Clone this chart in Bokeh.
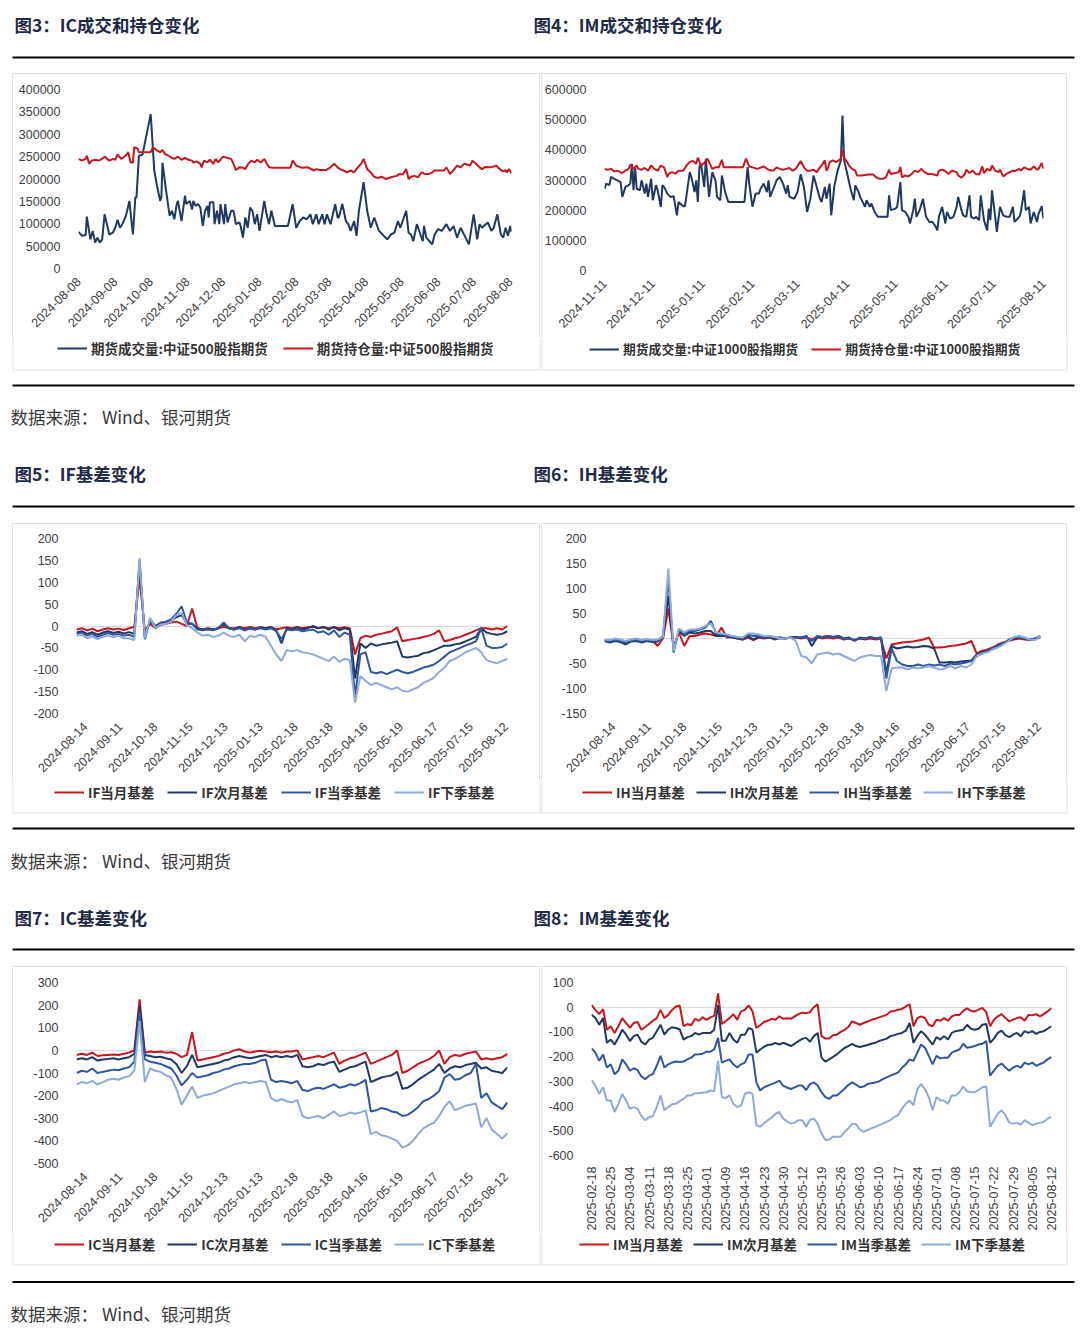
import numpy as np
import pandas as pd
from math import pi
from bokeh.plotting import figure
from bokeh.layouts import column, row
from bokeh.models import (Range1d, FixedTicker, Legend, LegendItem, Spacer,
                          NumeralTickFormatter, DatetimeTickFormatter)
from bokeh.core.properties import value
from bokeh.embed import file_html
from bokeh.resources import INLINE

# ---------------- data ----------------
# Fig 3: IC volume / open interest (calendar day offset from 2024-08-08)
ic_start = "2024-08-08"
ic_ticks = ["2024-08-08", "2024-09-08", "2024-10-08", "2024-11-08", "2024-12-08", "2025-01-08",
            "2025-02-08", "2025-03-08", "2025-04-08", "2025-05-08", "2025-06-08", "2025-07-08", "2025-08-08"]
ic_vol_day = [0, 3, 6, 7, 10, 12, 14, 16, 18, 20, 22, 26, 29, 31, 33, 35, 37, 40, 43, 45,
              46, 48, 49, 51, 54, 61, 64, 66, 69, 70, 71, 74, 76, 77, 79, 81, 83, 84, 87, 90,
              91, 94, 96, 97, 99, 101, 103, 105, 107, 109, 110, 111, 114, 115, 117, 119, 120, 123, 124, 126,
              129, 131, 133, 136, 137, 139, 141, 143, 145, 147, 149, 151, 153, 157, 159, 161, 163, 166, 171, 177,
              181, 184, 187, 190, 193, 196, 198, 201, 203, 206, 208, 210, 213, 217, 219, 220, 223, 226, 228, 230,
              233, 235, 237, 241, 244, 247, 250, 253, 254, 257, 261, 264, 267, 270, 272, 277, 279, 281, 283, 286,
              289, 291, 292, 294, 299, 301, 304, 307, 311, 314, 317, 320, 323, 330, 334, 337, 339, 341, 346, 349,
              351, 354, 357, 359, 361, 363, 365, 366]
ic_vol = [82000, 73000, 75000, 116000, 65000, 84000, 58000, 69000, 58000, 65000,
          121000, 76000, 80000, 91000, 109000, 91000, 99000, 117000, 151000, 99000,
          76000, 159000, 159000, 252000, 254000, 345000, 219000, 189000, 151000, 159000,
          236000, 174000, 136000, 118000, 129000, 110000, 144000, 151000, 106000, 163000,
          144000, 151000, 132000, 151000, 140000, 144000, 136000, 95000, 129000, 140000,
          114000, 148000, 148000, 99000, 129000, 99000, 144000, 99000, 144000, 103000,
          129000, 129000, 99000, 103000, 95000, 69000, 114000, 91000, 136000, 129000,
          99000, 121000, 84000, 151000, 121000, 99000, 129000, 95000, 95000, 95000,
          144000, 91000, 106000, 114000, 110000, 121000, 99000, 121000, 99000, 121000,
          99000, 121000, 99000, 144000, 114000, 114000, 144000, 106000, 99000, 84000,
          106000, 73000, 129000, 193000, 129000, 91000, 114000, 91000, 84000, 76000,
          65000, 76000, 80000, 106000, 91000, 129000, 80000, 76000, 61000, 99000,
          76000, 61000, 95000, 69000, 54000, 76000, 88000, 84000, 99000, 84000,
          95000, 69000, 91000, 54000, 121000, 65000, 99000, 91000, 103000, 84000,
          91000, 121000, 76000, 69000, 91000, 73000, 95000, 82000]
ic_oi_day = [0, 3, 6, 7, 9, 11, 14, 17, 20, 22, 26, 29, 31, 33, 36, 39, 41, 42, 44, 46,
             47, 50, 51, 54, 61, 63, 66, 69, 71, 73, 76, 79, 81, 84, 87, 90, 93, 96, 97, 100,
             103, 104, 106, 109, 111, 114, 116, 118, 120, 122, 126, 129, 131, 133, 136, 139, 141, 143, 146, 149,
             151, 154, 157, 159, 161, 164, 171, 179, 181, 184, 189, 194, 199, 201, 204, 209, 213, 216, 219, 221,
             224, 227, 230, 233, 236, 239, 241, 244, 247, 250, 253, 256, 260, 264, 269, 271, 274, 277, 279, 281,
             284, 287, 290, 293, 296, 299, 301, 304, 309, 311, 314, 317, 320, 323, 326, 329, 331, 333, 336, 339,
             341, 344, 347, 350, 353, 356, 359, 361, 362, 364, 366]
ic_oi = [245000, 241000, 245000, 252000, 234000, 241000, 243000, 241000, 245000, 250000,
         241000, 245000, 243000, 255000, 245000, 250000, 256000, 260000, 237000, 237000,
         271000, 268000, 260000, 260000, 260000, 271000, 264000, 260000, 265000, 256000,
         252000, 247000, 245000, 250000, 243000, 247000, 243000, 241000, 237000, 239000,
         234000, 226000, 241000, 237000, 243000, 234000, 245000, 237000, 243000, 250000,
         247000, 245000, 234000, 220000, 226000, 225000, 222000, 232000, 241000, 237000,
         243000, 237000, 245000, 235000, 226000, 225000, 225000, 225000, 241000, 230000,
         225000, 226000, 219000, 222000, 220000, 220000, 226000, 234000, 226000, 222000,
         219000, 215000, 219000, 215000, 226000, 234000, 245000, 222000, 215000, 205000,
         202000, 205000, 200000, 204000, 207000, 211000, 210000, 222000, 200000, 205000,
         207000, 204000, 215000, 211000, 211000, 215000, 219000, 219000, 219000, 226000,
         211000, 220000, 230000, 226000, 234000, 232000, 230000, 241000, 234000, 226000,
         222000, 227000, 226000, 227000, 230000, 222000, 217000, 220000, 215000, 222000,
         213000]

# Fig 4: IM volume / open interest (calendar day offset from 2024-11-11)
im_start = "2024-11-11"
im_ticks = ["2024-11-11", "2024-12-11", "2025-01-11", "2025-02-11", "2025-03-11",
            "2025-04-11", "2025-05-11", "2025-06-11", "2025-07-11", "2025-08-11"]
im_vol_day = [0, 1, 3, 4, 6, 8, 10, 11, 13, 15, 16, 17, 18, 19, 20, 22, 23, 25, 26, 27,
              29, 30, 32, 33, 35, 36, 37, 39, 41, 43, 45, 46, 49, 50, 52, 53, 54, 56, 57, 58,
              59, 60, 62, 63, 65, 67, 69, 70, 72, 73, 75, 77, 79, 83, 87, 89, 90, 92, 94, 96,
              97, 99, 101, 102, 103, 105, 107, 109, 111, 113, 114, 115, 118, 120, 122, 124, 126, 128, 130, 132,
              134, 135, 137, 138, 140, 141, 143, 145, 147, 148, 149, 151, 153, 155, 156, 158, 159, 162, 163, 165,
              166, 168, 170, 173, 176, 177, 178, 181, 182, 184, 185, 187, 189, 190, 192, 193, 194, 196, 198, 200,
              202, 204, 206, 207, 208, 210, 212, 213, 215, 217, 219, 220, 222, 223, 225, 227, 228, 230, 231, 233,
              234, 236, 238, 239, 240, 241, 243, 244, 246, 248, 250, 252, 254, 255, 258, 259, 261, 262, 264, 265,
              267, 269, 270, 272, 273]
im_vol = [271000, 288000, 283000, 310000, 304000, 299000, 293000, 244000, 277000, 283000,
          288000, 354000, 266000, 343000, 271000, 266000, 299000, 255000, 288000, 244000,
          304000, 233000, 283000, 266000, 211000, 283000, 277000, 255000, 244000, 246000,
          183000, 227000, 213000, 213000, 288000, 326000, 310000, 260000, 299000, 227000,
          343000, 354000, 277000, 370000, 244000, 326000, 299000, 244000, 233000, 315000,
          260000, 227000, 227000, 227000, 227000, 343000, 288000, 211000, 255000, 255000,
          271000, 288000, 260000, 299000, 244000, 271000, 299000, 310000, 288000, 255000,
          283000, 244000, 238000, 260000, 319000, 277000, 194000, 238000, 315000, 277000,
          238000, 227000, 277000, 238000, 288000, 183000, 282000, 331000, 365000, 514000,
          365000, 320000, 271000, 233000, 282000, 260000, 244000, 211000, 233000, 211000,
          222000, 194000, 178000, 178000, 178000, 249000, 200000, 205000, 211000, 293000,
          200000, 194000, 178000, 156000, 200000, 238000, 178000, 200000, 238000, 178000,
          161000, 161000, 145000, 133000, 178000, 211000, 156000, 194000, 172000, 178000,
          211000, 244000, 200000, 183000, 178000, 249000, 178000, 172000, 178000, 167000,
          249000, 167000, 133000, 205000, 167000, 266000, 178000, 128000, 211000, 183000,
          178000, 178000, 211000, 161000, 178000, 194000, 266000, 200000, 211000, 156000,
          194000, 161000, 189000, 213000, 172000]
im_oi_day = [0, 2, 4, 6, 8, 11, 13, 15, 16, 18, 20, 21, 23, 25, 27, 29, 31, 33, 35, 37,
             39, 40, 42, 44, 46, 49, 51, 53, 55, 57, 58, 60, 62, 64, 67, 69, 71, 73, 74, 79,
             86, 88, 90, 92, 95, 99, 102, 105, 107, 109, 111, 113, 115, 117, 119, 122, 124, 126, 128, 130,
             132, 134, 135, 137, 138, 139, 140, 142, 144, 145, 147, 148, 149, 151, 152, 154, 156, 157, 160, 164,
             167, 169, 171, 173, 175, 177, 178, 181, 183, 184, 185, 187, 189, 191, 193, 195, 197, 199, 201, 203,
             205, 207, 208, 210, 212, 214, 216, 219, 220, 222, 224, 225, 227, 229, 231, 233, 235, 236, 238, 240,
             241, 243, 245, 246, 248, 250, 252, 254, 255, 258, 259, 261, 263, 265, 267, 269, 270, 272, 273]
im_oi = [337000, 334000, 337000, 328000, 331000, 323000, 331000, 337000, 351000, 337000,
         348000, 337000, 334000, 340000, 331000, 348000, 337000, 331000, 348000, 342000,
         310000, 321000, 326000, 321000, 331000, 331000, 348000, 360000, 363000, 354000,
         374000, 348000, 356000, 371000, 337000, 342000, 342000, 367000, 342000, 342000,
         342000, 371000, 345000, 342000, 337000, 345000, 334000, 331000, 342000, 337000,
         334000, 337000, 340000, 331000, 337000, 363000, 342000, 331000, 331000, 334000,
         326000, 342000, 348000, 365000, 331000, 340000, 359000, 365000, 359000, 363000,
         370000, 398000, 373000, 359000, 348000, 337000, 331000, 315000, 315000, 318000,
         318000, 309000, 304000, 304000, 309000, 334000, 320000, 323000, 326000, 343000,
         309000, 315000, 312000, 320000, 331000, 326000, 337000, 326000, 320000, 320000,
         318000, 315000, 331000, 334000, 329000, 320000, 331000, 326000, 315000, 308000,
         318000, 334000, 323000, 331000, 320000, 318000, 345000, 323000, 337000, 331000,
         348000, 331000, 326000, 334000, 312000, 320000, 326000, 331000, 329000, 337000,
         331000, 342000, 337000, 334000, 345000, 334000, 337000, 356000, 337000]

# Fig 5-7: basis, trading-day index (labels every 20 trading days)
basis_ticks = ["2024-08-14", "2024-09-11", "2024-10-18", "2024-11-15", "2024-12-13", "2025-01-13",
               "2025-02-18", "2025-03-18", "2025-04-16", "2025-05-19", "2025-06-17", "2025-07-15", "2025-08-12"]
basis_tick_idx = [5, 25, 45, 65, 85, 105, 125, 145, 165, 185, 205, 225, 245]
basis_idx = list(range(0, 247, 3))

if_cur = [-8, -5, -10, -6, -12, -8, -5, -8, -6, -9, -5, -2, 110,
          -10, 5, -5, 2, 5, 8, 10, 5, 0, 40,
          -5, -8, -5, -8, -5, -2, -5, -5, -3, -5,
          -2, -5, -3, -5, -2, -8, -5, -3, -5, -2,
          -5, -3, -2, -5, -3, -5, -3, -5, -3, -5,
          -65, -28, -22, -25, -20, -18, -15, -12, -3, -35,
          -32, -30, -28, -25, -22, -18, -10, -35, -32, -28,
          -25, -20, -15, -10, -5, -5, -8, -5, -8, 0]
if_next = [-15, -12, -18, -14, -20, -15, -12, -16, -13, -17, -14, -18, 140,
           -25, 12, -2, 5, 8, 12, 20, 25, 5, 5,
           -5, -8, -6, -8, -5, 5, -5, -8, -2, -10,
           -5, -8, -3, -5, -3, -10, -40, -5, -8, -3,
           -8, -5, 0, -5, -2, -8, -2, -10, -5, -8,
           -120, -40, -50, -40, -45, -42, -40, -38, -35, -70,
           -72, -70, -68, -62, -60, -55, -50, -45, -45, -42,
           -40, -35, -30, -25, -5, -15, -18, -20, -18, -12]
if_q = [-18, -15, -22, -18, -25, -20, -16, -20, -18, -22, -20, -25, 150,
        -30, 15, 0, 8, 10, 15, 28, 45, 8, 5,
        -8, -10, -8, -10, -5, 8, -5, -8, -5, -10,
        -5, -8, -5, -8, -5, -12, -30, -8, -10, -8,
        -12, -10, -8, -15, -12, -20, -10, -25, -15, -20,
        -160, -65, -60, -105, -108, -105, -110, -105, -100, -105,
        -108, -105, -100, -95, -92, -88, -80, -70, -60, -55,
        -50, -45, -40, -35, -5, -45, -50, -50, -48, -40]
if_nq = [-22, -20, -28, -24, -30, -25, -22, -26, -22, -28, -28, -32, 155,
         -28, 18, -5, 3, 5, 10, 25, 30, 2, -5,
         -15, -22, -20, -25, -22, -15, -22, -25, -20, -35,
         -22, -25, -20, -25, -45, -65, -80, -55, -58, -55,
         -60, -62, -65, -70, -75, -80, -70, -82, -75, -78,
         -175, -115, -125, -135, -130, -135, -140, -145, -140, -148,
         -150, -145, -140, -130, -125, -118, -105, -95, -80, -75,
         -68, -60, -55, -50, -60, -78, -82, -85, -80, -75]

ih_cur = [-3, -5, -2, -4, -6, -3, -2, -4, -2, -4, -15, 0, 60,
          -15, 12, -15, 5, 5, 8, 10, 8, 5, 22,
          2, 3, 0, -2, 2, -3, 2, 0, 3, -2,
          2, 0, 2, 2, 0, 2, -2, 3, 0, 2,
          0, 2, -2, 0, -3, 0, -2, 0, -2, 0,
          -40, -12, -10, -8, -7, -6, -4, -2, 2, -18,
          -18, -17, -15, -14, -12, -10, -5, -30, -25, -22,
          -18, -12, -8, -5, -2, 0, -2, -3, -2, 3]
ih_next = [-5, -8, -5, -7, -12, -6, -5, -8, -5, -7, -6, 2, 85,
           -20, 15, 5, 12, 10, 12, 15, 15, 5, 5,
           5, 2, 0, -2, 5, -2, 3, 2, 2, 0,
           0, 0, 2, 3, 2, 5, -15, 2, 3, 5,
           3, 5, 0, 2, -5, 2, 0, 3, 0, 2,
           -70, -15, -20, -18, -16, -18, -17, -15, -16, -20,
           -48, -48, -47, -48, -46, -45, -44, -32, -28, -25,
           -20, -15, -10, -3, 0, 2, 0, -2, 0, 2]
ih_q = [-3, -6, -3, -5, -8, -4, -3, -6, -3, -5, -4, 5, 120,
        -28, 18, 10, 15, 15, 18, 22, 35, 10, 8,
        5, 5, 2, 0, 8, 5, 5, 3, 5, 2,
        2, 0, 2, 2, 2, 3, -5, 5, 3, 5,
        3, 5, 0, 0, -3, 0, 0, 2, 0, 2,
        -80, -20, -45, -52, -55, -55, -52, -55, -52, -54,
        -52, -55, -50, -52, -50, -48, -45, -35, -30, -25,
        -20, -15, -10, -3, 2, 3, 0, -2, 0, 5]
ih_nq = [-2, -3, 0, -2, -5, -2, 0, -3, -1, -3, -2, 3, 140,
         -25, 20, 12, 18, 18, 20, 25, 30, 12, 10,
         8, 5, 3, 2, 10, 10, 8, 5, 5, 3,
         0, 0, 2, -5, -35, -38, -50, -32, -30, -28,
         -32, -30, -35, -40, -45, -38, -35, -33, -35, -35,
         -105, -60, -58, -58, -62, -58, -60, -58, -55, -58,
         -62, -60, -55, -60, -55, -58, -52, -35, -30, -28,
         -22, -18, -12, -5, 3, 5, 2, -2, -3, 5]

icb_cur = [-20, -15, -20, -10, -25, -22, -20, -18, -20, -15, -10, 0, 225,
           -10, -5, -8, -5, -10, -8, -15, -30, -20, 80,
           -45, -40, -35, -30, -25, -15, -10, 0, 5, -5,
           -10, -5, -2, -5, -8, -5, -10, -5, -5, 0,
           -40, -35, -30, -25, -30, -20, -10, -60, -45, -35,
           -30, -20, -10, -60, -50, -40, -30, -20, 0, -100,
           -90, -75, -60, -50, -40, -25, 0, -60, -30, -20,
           -25, -15, -10, -5, -40, -35, -40, -35, -30, -15]
icb_next = [-40, -35, -40, -30, -45, -40, -38, -35, -40, -35, -30, -15, 200,
            -20, -25, -30, -28, -35, -40, -60, -100, -70, -20,
            -75, -70, -65, -60, -55, -45, -40, -30, -25, -30,
            -35, -30, -25, -20, -30, -25, -30, -25, -30, -20,
            -70, -75, -70, -60, -65, -55, -50, -95, -85, -75,
            -70, -60, -50, -140, -130, -120, -115, -110, -95, -170,
            -165, -150, -130, -115, -100, -85, -60, -100, -80, -70,
            -75, -65, -60, -55, -80, -75, -90, -95, -100, -75]
icb_q = [-100, -90, -95, -80, -100, -95, -90, -85, -88, -80, -75, -50, 170,
         -40, -50, -55, -60, -70, -80, -110, -155, -130, -100,
         -120, -115, -110, -100, -95, -85, -80, -70, -65, -60,
         -60, -55, -45, -40, -130, -140, -135, -140, -145, -135,
         -175, -180, -170, -165, -170, -160, -150, -165, -160, -150,
         -155, -145, -130, -270, -265, -255, -260, -270, -275, -290,
         -285, -270, -250, -225, -215, -200, -180, -120, -105, -130,
         -125, -110, -100, -60, -210, -190, -230, -245, -260, -230]
icb_nq = [-150, -140, -145, -135, -150, -140, -130, -125, -130, -120, -115, -90, 130,
          -140, -80, -90, -95, -110, -120, -170, -240, -200, -160,
          -210, -200, -195, -190, -180, -170, -160, -150, -145, -140,
          -145, -140, -135, -140, -210, -225, -215, -225, -230, -220,
          -290, -300, -295, -290, -300, -285, -270, -290, -285, -275,
          -280, -275, -265, -370, -360, -375, -380, -390, -400, -430,
          -420, -400, -370, -345, -330, -320, -290, -250, -225, -265,
          -255, -245, -240, -235, -340, -300, -350, -370, -390, -365]

# Fig 8: IM basis, trading-day index (labels every 5 trading days)
im8_ticks = ["2025-02-18", "2025-02-25", "2025-03-04", "2025-03-11", "2025-03-18", "2025-03-25",
             "2025-04-01", "2025-04-09", "2025-04-16", "2025-04-23", "2025-04-30", "2025-05-12",
             "2025-05-19", "2025-05-26", "2025-06-03", "2025-06-10", "2025-06-17", "2025-06-24",
             "2025-07-01", "2025-07-08", "2025-07-15", "2025-07-22", "2025-07-29", "2025-08-05", "2025-08-12"]
imb_cur = [9, -11, -28, -8, -91, -77, -104, -77, -44, -64,
           -84, -64, -60, -91, -80, -68, -55, -44, -11, -44,
           -31, -11, 3, 7, -77, -68, -73, -47, -55, -41,
           -51, -41, -35, 56, -68, -57, -44, -28, -51, -17,
           -11, 7, -17, -84, -73, -60, -55, -47, -51, -37,
           -47, -45, -47, -37, -28, -22, -24, -20, 0, 12,
           -117, -127, -127, -113, -111, -100, -92, -80, -57, -64,
           -71, -64, -58, -51, -47, -41, -36, -31, -17, -15,
           -10, -7, 3, 12, -77, -44, -37, -44, -71, -77,
           -51, -55, -44, -55, -37, -31, -31, -15, -4, -15,
           -17, -10, -3, -20, -77, -51, -37, -28, -44, -57,
           -50, -44, -41, -55, -31, -33, -28, -37, -28, -17,
           -4]
imb_next = [-31, -44, -71, -44, -144, -131, -151, -124, -91, -111,
            -137, -117, -111, -140, -151, -131, -124, -97, -71, -111,
            -91, -81, -84, -90, -131, -121, -117, -104, -111, -104,
            -104, -104, -91, 9, -137, -135, -104, -131, -144, -111,
            -111, -84, -91, -184, -171, -160, -153, -151, -144, -151,
            -144, -150, -157, -148, -137, -128, -124, -140, -117, -104,
            -204, -220, -211, -201, -191, -177, -165, -157, -148, -157,
            -161, -157, -153, -148, -144, -137, -132, -127, -117, -113,
            -108, -104, -95, -64, -144, -117, -97, -111, -131, -151,
            -121, -131, -117, -131, -104, -97, -94, -91, -71, -87,
            -91, -87, -71, -68, -144, -127, -104, -95, -113, -121,
            -111, -104, -117, -97, -104, -97, -108, -100, -97, -87,
            -77]
imb_q = [-167, -184, -217, -191, -244, -231, -271, -257, -211, -231,
         -257, -247, -255, -280, -291, -277, -271, -237, -197, -244,
         -231, -224, -220, -222, -220, -211, -204, -191, -190, -188,
         -180, -180, -171, -124, -224, -217, -211, -231, -244, -231,
         -224, -191, -191, -304, -337, -324, -317, -311, -305, -297,
         -317, -325, -331, -324, -317, -317, -335, -311, -304, -317,
         -344, -364, -371, -357, -357, -344, -330, -315, -304, -313,
         -324, -321, -311, -308, -305, -300, -291, -284, -277, -271,
         -264, -245, -231, -211, -217, -184, -151, -164, -197, -231,
         -197, -207, -204, -204, -184, -177, -171, -148, -164, -161,
         -157, -151, -148, -137, -277, -257, -237, -228, -244, -257,
         -244, -237, -244, -224, -231, -224, -237, -230, -224, -211,
         -201]
imb_nq = [-295, -317, -351, -324, -377, -377, -424, -391, -351, -377,
          -411, -404, -411, -440, -457, -444, -441, -404, -357, -417,
          -404, -393, -391, -380, -371, -357, -357, -348, -348, -346,
          -344, -337, -340, -217, -364, -367, -357, -391, -404, -397,
          -351, -344, -351, -477, -484, -470, -457, -447, -431, -424,
          -451, -462, -471, -467, -457, -457, -484, -455, -451, -471,
          -511, -537, -535, -524, -524, -524, -505, -490, -471, -473,
          -495, -504, -497, -490, -484, -477, -471, -464, -457, -444,
          -437, -410, -391, -377, -397, -331, -311, -331, -364, -417,
          -364, -377, -377, -391, -357, -357, -344, -321, -340, -344,
          -344, -335, -324, -321, -484, -457, -431, -417, -437, -467,
          -471, -467, -476, -457, -467, -477, -471, -468, -464, -451,
          -444]

# ---------------- styling ----------------
W = 1080
RED = "#C9151E"
NAVY = "#203864"
MID = "#2F56A0"
LIGHT = "#8EAADB"
TICK_FONT = "Liberation Sans"
CJK = "Noto Sans CJK SC"
TITLE_COLOR = "#1F2B47"
SRC_COLOR = "#3A3A3A"
BORDER = "#E2E2E2"
BOX_TOP = {"box-shadow": f"inset 1px 0 0 0 {BORDER}, inset -1px 0 0 0 {BORDER}, inset 0 1px 0 0 {BORDER}"}
LEFT_BOX = (12, 540)
RIGHT_BOX = (541, 1067)


def band(height, texts, rules, box_bottom=None, legends=()):
    p = figure(width=W, height=height, x_range=Range1d(0, W), y_range=Range1d(height, 0),
               output_backend="svg", toolbar_location=None, min_border=0,
               x_axis_type=None, y_axis_type=None, title=None)
    p.outline_line_color = None
    p.background_fill_color = None
    p.border_fill_color = None
    if box_bottom is not None:
        yb = box_bottom - 0.5
        for (x0, x1) in (LEFT_BOX, RIGHT_BOX):
            p.segment(x0=[x0 + 0.5, x1 - 0.5, x0], y0=[0, 0, yb],
                      x1=[x0 + 0.5, x1 - 0.5, x1], y1=[yb, yb, yb],
                      line_color=BORDER, line_width=1)
    for (x, y, txt, size, color, style) in texts:
        p.text(x=[x], y=[y], text=[txt], text_font=value(CJK), text_font_size=size,
               text_color=color, text_font_style=style, text_baseline="middle", text_align="left")
    for y in rules:
        p.segment(x0=[12], y0=[y], x1=[1074], y1=[y], line_color="#000000", line_width=2)
    for (series, loc, spacing, fsize) in legends:
        items = []
        for (xs, ys, color, label) in series:
            # legend key only: placed outside the visible range
            rr = p.line(x=[-60, -50], y=[-60, -50], line_color=color, line_width=2)
            items.append(LegendItem(label=label, renderers=[rr]))
        leg = Legend(items=items, location=loc, orientation="horizontal",
                     spacing=spacing, padding=0, margin=0, glyph_width=30, glyph_height=16,
                     label_height=16, label_standoff=4, label_text_font=CJK,
                     label_text_font_size=fsize, label_text_font_style="bold",
                     label_text_color="#333333", border_line_color=None, background_fill_alpha=0)
        p.add_layout(leg)
    return p


def chart(width, height, borders, x_range, y_range, yticks, series,
          xticks, xoverrides=None, orient=pi / 4, datetime=False):
    l, r, t, b = borders
    p = figure(width=width, height=height, x_range=x_range, y_range=y_range,
               x_axis_type="datetime" if datetime else "linear",
               output_backend="svg", toolbar_location=None, title=None,
               min_border_left=l, min_border_right=r, min_border_top=t, min_border_bottom=b)
    p.styles = BOX_TOP
    p.outline_line_color = None
    p.background_fill_color = None
    p.border_fill_color = None
    for (xs, ys, color, label) in series:
        p.line(x=xs, y=ys, line_color=color, line_width=2)
    xa = p.xaxis[0]
    xa.ticker = FixedTicker(ticks=xticks)
    if datetime:
        fmt = "%Y-%m-%d"
        xa.formatter = DatetimeTickFormatter(milliseconds=fmt, seconds=fmt, minsec=fmt, minutes=fmt,
                                             hourmin=fmt, hours=fmt, days=fmt, months=fmt, years=fmt)
    if xoverrides:
        xa.major_label_overrides = xoverrides
    xa.major_label_orientation = orient
    xa.axis_line_color = None
    xa.major_tick_line_color = None
    xa.minor_tick_line_color = None
    xa.major_label_text_font = TICK_FONT
    xa.major_label_text_font_size = "12.5px"
    xa.major_label_text_color = "#404040"
    xa.major_label_standoff = 5
    ya = p.yaxis[0]
    ya.ticker = FixedTicker(ticks=yticks)
    ya.formatter = NumeralTickFormatter(format="0")
    ya.axis_line_color = None
    ya.major_tick_line_color = None
    ya.minor_tick_line_color = None
    ya.major_label_text_font = TICK_FONT
    ya.major_label_text_font_size = "12.5px"
    ya.major_label_text_color = "#404040"
    ya.major_label_standoff = 12
    p.xgrid.visible = False
    p.ygrid.ticker = FixedTicker(ticks=[0])
    p.ygrid.grid_line_color = "#D9D9D9"
    p.ygrid.grid_line_width = 1
    return column(p)


def ms(s):
    return pd.Timestamp(s).value / 1e6


def dates(start, days):
    return (pd.Timestamp(start) + pd.to_timedelta(np.array(days), unit="D")).values


s3 = [(dates(ic_start, ic_vol_day), ic_vol, NAVY, "期货成交量:中证500股指期货"),
      (dates(ic_start, ic_oi_day), ic_oi, RED, "期货持仓量:中证500股指期货")]
s4 = [(dates(im_start, im_vol_day), im_vol, NAVY, "期货成交量:中证1000股指期货"),
      (dates(im_start, im_oi_day), im_oi, RED, "期货持仓量:中证1000股指期货")]
s5 = [(basis_idx, if_cur, RED, "IF当月基差"), (basis_idx, if_next, NAVY, "IF次月基差"),
      (basis_idx, if_q, MID, "IF当季基差"), (basis_idx, if_nq, LIGHT, "IF下季基差")]
s6 = [(basis_idx, ih_cur, RED, "IH当月基差"), (basis_idx, ih_next, NAVY, "IH次月基差"),
      (basis_idx, ih_q, MID, "IH当季基差"), (basis_idx, ih_nq, LIGHT, "IH下季基差")]
s7 = [(basis_idx, icb_cur, RED, "IC当月基差"), (basis_idx, icb_next, NAVY, "IC次月基差"),
      (basis_idx, icb_q, MID, "IC当季基差"), (basis_idx, icb_nq, LIGHT, "IC下季基差")]
im8_idx = list(range(len(imb_cur)))
im8_tick_idx = list(range(0, 121, 5))
s8 = [(im8_idx, imb_cur, RED, "IM当月基差"), (im8_idx, imb_next, NAVY, "IM次月基差"),
      (im8_idx, imb_q, MID, "IM当季基差"), (im8_idx, imb_nq, LIGHT, "IM下季基差")]

bov = {i: s for i, s in zip(basis_tick_idx, basis_ticks)}

p3 = chart(528, 265, (66, 29, 16, 70),
           Range1d(ms(ic_start) - 3.6e6, ms("2025-08-09")), Range1d(0, 400000),
           list(range(0, 400001, 50000)), s3, [ms(s) for s in ic_ticks], datetime=True)
p4 = chart(526, 265, (62, 24, 16, 68),
           Range1d(ms(im_start) - 3.6e6, ms("2025-08-11") + 3.6e6), Range1d(0, 600000),
           list(range(0, 600001, 100000)), s4, [ms(s) for s in im_ticks], datetime=True)
p5 = chart(528, 257, (64, 33, 15, 67), Range1d(0, 246), Range1d(-200, 200),
           list(range(-200, 201, 50)), s5, basis_tick_idx, bov)
p6 = chart(526, 257, (63, 27, 15, 67), Range1d(0, 246), Range1d(-150, 200),
           list(range(-150, 201, 50)), s6, basis_tick_idx, bov)
p7 = chart(528, 267, (64, 33, 16, 70), Range1d(0, 246), Range1d(-500, 300),
           list(range(-500, 301, 100)), s7, basis_tick_idx, bov)
p8 = chart(526, 267, (50, 16, 16, 76), Range1d(-0.02, 120.02), Range1d(-600, 100),
           list(range(-600, 101, 100)), s8, im8_tick_idx,
           {i: s for i, s in zip(im8_tick_idx, im8_ticks)}, orient=pi / 2)

SRC = "数据来源： Wind、银河期货"
TS = "17.5px"
LF = "13.5px"
head = band(73, [(14, 24, "图3：IC成交和持仓变化", TS, TITLE_COLOR, "bold"),
                 (533, 24, "图4：IM成交和持仓变化", TS, TITLE_COLOR, "bold")], [57])
mid1 = band(185, [(10, 78, SRC, TS, SRC_COLOR, "normal"),
                  (14, 135, "图5：IF基差变化", TS, TITLE_COLOR, "bold"),
                  (533, 135, "图6：IH基差变化", TS, TITLE_COLOR, "bold")], [47, 168],
            box_bottom=32, legends=[(s3, (57, 165), 15, LF), (s4, (589, 165), 13, "12.8px")])
mid2 = band(186, [(10, 80, SRC, TS, SRC_COLOR, "normal"),
                  (14, 137, "图7：IC基差变化", TS, TITLE_COLOR, "bold"),
                  (533, 137, "图8：IM基差变化", TS, TITLE_COLOR, "bold")], [48, 169],
            box_bottom=33, legends=[(s5, (54, 164), 13, LF), (s6, (582, 164), 11, LF)])
foot = band(109, [(10, 80, SRC, TS, SRC_COLOR, "normal")], [48.5],
            box_bottom=32, legends=[(s7, (54, 88), 12, LF), (s8, (579, 88), 10, LF)])

page = column(
    head,
    row(Spacer(width=12, height=265), p3, Spacer(width=1, height=265), p4),
    mid1,
    row(Spacer(width=12, height=257), p5, Spacer(width=1, height=257), p6),
    mid2,
    row(Spacer(width=12, height=267), p7, Spacer(width=1, height=267), p8),
    foot,
)

open("out.html", "w").write(file_html(page, INLINE))
